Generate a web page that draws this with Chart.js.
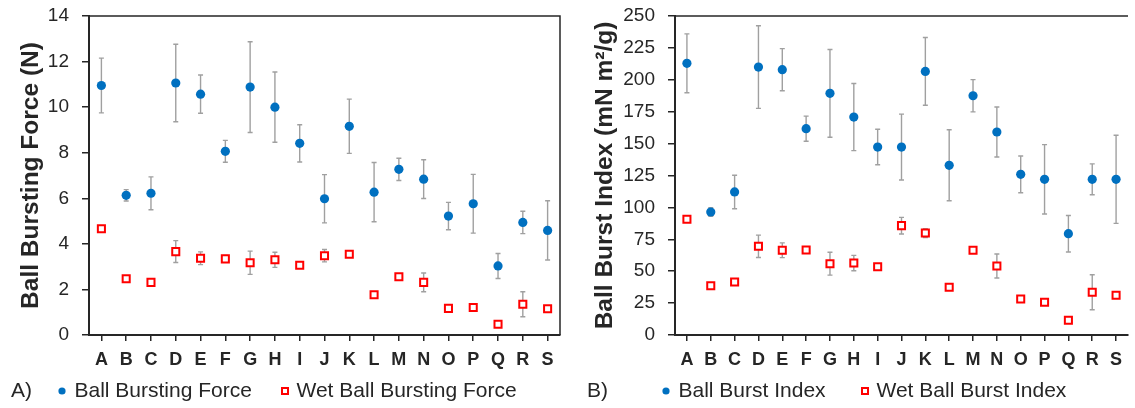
<!DOCTYPE html>
<html>
<head>
<meta charset="utf-8">
<script src="https://cdn.jsdelivr.net/npm/chart.js@4"></script>
<style>
  html, body { margin: 0; padding: 0; background: #fff; }
  #wrap { position: relative; width: 1135px; height: 408px; overflow: hidden; }
  .panel { position: absolute; top: 0; height: 408px; }
  #panelA { left: 0; width: 567px; }
  #panelB { left: 567px; width: 568px; }
</style>
</head>
<body>
<div id="wrap">
  <div class="panel" id="panelA"><canvas id="chartA"></canvas></div>
  <div class="panel" id="panelB"><canvas id="chartB"></canvas></div>
</div>
<script>
// Categories (samples)
const samples = ["A", "B", "C", "D", "E", "F", "G", "H", "I", "J", "K", "L", "M", "N", "O", "P", "Q", "R", "S"];

// A) Ball bursting force (N)
const forceDry = [10.95, 6.13, 6.22, 11.06, 10.57, 8.06, 10.88, 10.0, 8.41, 5.98, 9.16, 6.27, 7.27, 6.84, 5.22, 5.76, 3.03, 4.94, 4.59];
const forceDrySd = [1.2, 0.25, 0.72, 1.7, 0.84, 0.48, 1.99, 1.54, 0.82, 1.06, 1.19, 1.3, 0.49, 0.85, 0.6, 1.29, 0.55, 0.49, 1.3];
const forceWet = [4.66, 2.47, 2.31, 3.66, 3.37, 3.34, 3.17, 3.30, 3.06, 3.48, 3.54, 1.77, 2.56, 2.31, 1.17, 1.21, 0.47, 1.35, 1.15];
const forceWetSd = [0.1, 0.1, 0.1, 0.48, 0.28, 0.15, 0.51, 0.33, 0.1, 0.27, 0.1, 0.1, 0.1, 0.41, 0.1, 0.1, 0.1, 0.55, 0.1];

// B) Ball burst index (mN m2/g)
const indexDry = [212.9, 96.4, 112.1, 210, 207.9, 161.7, 189.4, 170.8, 147.3, 147.3, 206.6, 133, 187.5, 159.1, 125.9, 122, 79.4, 122, 122];
const indexDrySd = [23.1, 3.4, 13.1, 32.4, 16.5, 9.8, 34.4, 26.3, 13.9, 25.8, 26.5, 27.8, 12.6, 19.6, 14.4, 27.2, 14.3, 12.1, 34.5];
const indexWet = [90.7, 38.6, 41.5, 69.5, 66.4, 66.6, 55.9, 56.4, 53.5, 85.7, 79.9, 37.4, 66.4, 54.1, 28.2, 25.6, 11.5, 33.5, 31.1];
const indexWetSd = [2, 2, 2, 8.8, 5.8, 2, 9, 6, 2, 6.5, 3.5, 2, 2, 9.4, 2, 2, 2, 13.7, 2];

const forceTicks = { min: 0, max: 14, step: 2 };
const indexTicks = { min: 0, max: 250, step: 25 };

const FONT = "'Liberation Sans', Arial, sans-serif";
const TEXT = "#262626";
const AXIS = "#262626";
const BLUE = "#0070C0";
const RED = "#FF0000";
const ERR = "#a0a0a0";

// draws +/- SD whiskers behind the markers
const errorBars = {
    id: "errorBars",
    beforeDatasetsDraw(chart) {
        const ctx = chart.ctx;
        const y = chart.scales.y;
        chart.data.datasets.forEach((ds, di) => {
            if (!ds.sd) return;
            const meta = chart.getDatasetMeta(di);
            ctx.save();
            ctx.strokeStyle = ERR;
            ctx.lineWidth = 1.4;
            meta.data.forEach((pt, i) => {
                const top = y.getPixelForValue(ds.data[i] + ds.sd[i]);
                const bot = y.getPixelForValue(ds.data[i] - ds.sd[i]);
                ctx.beginPath();
                ctx.moveTo(pt.x, top);
                ctx.lineTo(pt.x, bot);
                ctx.moveTo(pt.x - 2.5, top);
                ctx.lineTo(pt.x + 2.5, top);
                ctx.moveTo(pt.x - 2.5, bot);
                ctx.lineTo(pt.x + 2.5, bot);
                ctx.stroke();
            });
            ctx.restore();
        });
    },
};

// top/right frame lines, panel letter and the legend row under the axis
const frame = {
    id: "frame",
    afterDraw(chart, args, opts) {
        const { ctx, chartArea } = chart;
        const ly = 391;
        ctx.save();
        ctx.strokeStyle = AXIS;
        ctx.lineWidth = 1.5;
        ctx.beginPath();
        ctx.moveTo(chartArea.left, chartArea.top);
        ctx.lineTo(chartArea.right, chartArea.top);
        if (opts.rightLine) ctx.lineTo(chartArea.right, chartArea.bottom);
        ctx.stroke();

        ctx.fillStyle = TEXT;
        ctx.font = "21px " + FONT;
        ctx.textBaseline = "middle";
        ctx.fillText(opts.letter, opts.letterX, ly);

        const ds = chart.data.datasets;
        // dry: filled blue dot
        ctx.fillStyle = BLUE;
        ctx.beginPath();
        ctx.arc(opts.dotX, ly, 3.6, 0, Math.PI * 2);
        ctx.fill();
        ctx.fillStyle = TEXT;
        ctx.fillText(ds[0].label, opts.dotX + 12.5, ly);
        // wet: open red square
        ctx.strokeStyle = RED;
        ctx.lineWidth = 2;
        ctx.fillStyle = "#fff";
        ctx.beginPath();
        ctx.rect(opts.sqX - 3, ly - 3, 6, 6);
        ctx.fill();
        ctx.stroke();
        ctx.fillStyle = TEXT;
        ctx.fillText(ds[1].label, opts.sqX + 11.5, ly);
        ctx.restore();
    },
};

function makeChart(id, cfg) {
    return new Chart(document.getElementById(id), {
        type: "line",
        data: {
            labels: samples,
            datasets: [
                {
                    label: cfg.dryLabel,
                    data: cfg.dry,
                    sd: cfg.drySd,
                    showLine: false,
                    pointStyle: "circle",
                    pointRadius: 4.6,
                    pointHoverRadius: 4.6,
                    backgroundColor: BLUE,
                    borderColor: BLUE,
                    borderWidth: 0,
                },
                {
                    label: cfg.wetLabel,
                    data: cfg.wet,
                    sd: cfg.wetSd,
                    showLine: false,
                    pointStyle: "rect",
                    pointRadius: 5,
                    pointHoverRadius: 5,
                    backgroundColor: "#ffffff",
                    borderColor: RED,
                    borderWidth: 2,
                },
            ],
        },
        options: {
            responsive: true,
            maintainAspectRatio: false,
            animation: false,
            layout: { padding: { top: 16, right: cfg.padRight, left: 0, bottom: 36 } },
            plugins: {
                tooltip: { enabled: false },
                legend: { display: false },
                frame: cfg.frame,
            },
            scales: {
                x: {
                    type: "category",
                    offset: true,
                    grid: { drawOnChartArea: false, drawTicks: true, tickLength: 6, color: AXIS, lineWidth: 1.5 },
                    border: { color: AXIS, width: 2 },
                    ticks: { color: TEXT, padding: 8, font: { family: FONT, size: 18, weight: "bold" } },
                    afterFit(scale) { scale.height = 37; },
                },
                y: {
                    min: cfg.ticks.min,
                    max: cfg.ticks.max,
                    grid: { drawOnChartArea: false, drawTicks: true, tickLength: 7, color: AXIS, lineWidth: 1.5 },
                    border: { color: AXIS, width: 2 },
                    ticks: { stepSize: cfg.ticks.step, color: TEXT, padding: 13, font: { family: FONT, size: 19 } },
                    title: {
                        display: true,
                        text: cfg.yTitle,
                        color: TEXT,
                        padding: { top: cfg.titlePad, bottom: 0 },
                        font: { family: FONT, size: 24.5, weight: "bold" },
                    },
                    afterFit(scale) {
                        scale.width = cfg.yWidth;
                        scale.paddingTop = 0;
                        scale.paddingBottom = 0;
                    },
                },
            },
        },
        plugins: [errorBars, frame],
    });
}

makeChart("chartA", {
    dry: forceDry, drySd: forceDrySd, wet: forceWet, wetSd: forceWetSd,
    dryLabel: "Ball Bursting Force", wetLabel: "Wet Ball Bursting Force",
    yTitle: "Ball Bursting Force (N)", ticks: forceTicks,
    yWidth: 89, padRight: 5, titlePad: 17,
    frame: { letter: "A)", letterX: 11, dotX: 62, sqX: 285, rightLine: true },
});

makeChart("chartB", {
    dry: indexDry, drySd: indexDrySd, wet: indexWet, wetSd: indexWetSd,
    dryLabel: "Ball Burst Index", wetLabel: "Wet Ball Burst Index",
    yTitle: "Ball Burst Index (mN m²/g)", ticks: indexTicks,
    yWidth: 108, padRight: 0, titlePad: 24,
    frame: { letter: "B)", letterX: 20, dotX: 99, sqX: 298, rightLine: false },
});
</script>
</body>
</html>
